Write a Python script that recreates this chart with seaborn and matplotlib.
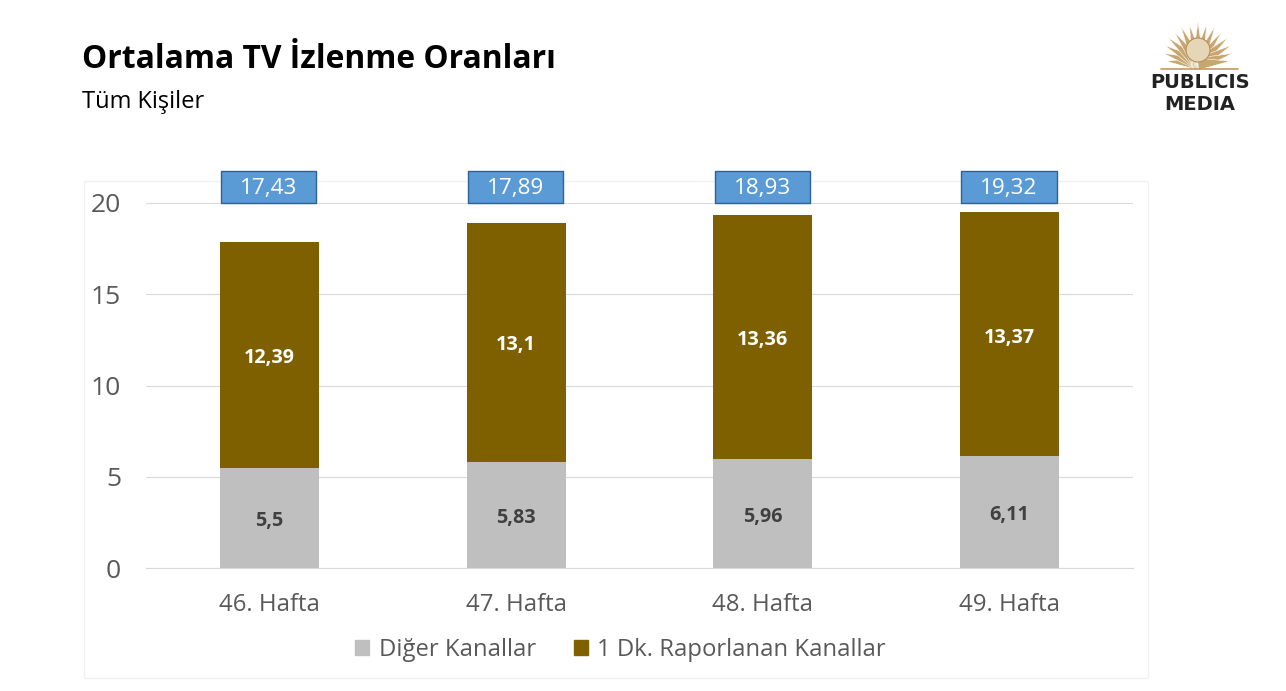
import numpy as np
import pandas as pd
import matplotlib
matplotlib.use("Agg")
import matplotlib.pyplot as plt
from matplotlib.patches import Rectangle, Polygon
import seaborn as sns

weeks = ["46. Hafta", "47. Hafta", "48. Hafta", "49. Hafta"]
other = [5.5, 5.83, 5.96, 6.11]
reported = [12.39, 13.1, 13.36, 13.37]
other_labels = ["5,5", "5,83", "5,96", "6,11"]
reported_labels = ["12,39", "13,1", "13,36", "13,37"]
total_labels = ["17,43", "17,89", "18,93", "19,32"]
y_ticks = [0, 5, 10, 15, 20]

W, H = 1286, 691
sns.set_theme(style="white")
plt.rcParams["font.family"] = ["Open Sans", "DejaVu Sans"]
fig = plt.figure(figsize=(W / 100, H / 100), dpi=100, facecolor="white")


def fx(px):
    return px / W


def fy(py):
    return 1 - py / H


ax = fig.add_axes([fx(146), fy(568), fx(1133) - fx(146), fy(203) - fy(568)])
ax.set_facecolor("none")

df = pd.DataFrame({"week": weeks, "other": other, "reported": reported})
sns.barplot(data=df, x="week", y="other", color="#BFBFBF", saturation=1, width=0.402, ax=ax,
            zorder=3, linewidth=0, edgecolor="none")
sns.barplot(data=df, x="week", y="reported", bottom=df["other"], color="#7F6000", saturation=1,
            width=0.402, ax=ax, zorder=3, linewidth=0, edgecolor="none")

ax.set_xlim(-0.5, 3.5)
ax.set_ylim(0, 20)
ax.set_yticks(y_ticks)
ax.set_xlabel("")
ax.set_ylabel("")
ax.grid(axis="y", color="#D9D9D9", lw=0.8)
ax.set_axisbelow(True)
for s in ["top", "right", "left"]:
    ax.spines[s].set_visible(False)
ax.spines["bottom"].set_color("#D9D9D9")
ax.spines["bottom"].set_linewidth(0.8)
ax.tick_params(axis="both", length=0)
ax.tick_params(axis="y", labelsize=19, labelcolor="#595959", pad=18)
ax.tick_params(axis="x", labelsize=17.3, labelcolor="#595959", pad=18)

for i in range(len(weeks)):
    ax.annotate(other_labels[i], (i, other[i] / 2), xytext=(0, -2.2), textcoords="offset points",
                ha="center", va="center", fontsize=14.2, fontweight="bold", color="#404040", zorder=5)
    ax.annotate(reported_labels[i], (i, other[i] + reported[i] / 2), xytext=(0, -2.2),
                textcoords="offset points", ha="center", va="center", fontsize=14.2,
                fontweight="bold", color="white", zorder=5)
    ax.add_patch(Rectangle((i - 0.196, 20), 0.386, 1.75, facecolor="#5B9BD5",
                           edgecolor="#2E6196", lw=1, clip_on=False, zorder=6))
    ax.text(i - 0.003, 20.82, total_labels[i], ha="center", va="center", fontsize=16.2,
            color="white", zorder=7, clip_on=False)

# chart frame
fig.add_artist(Rectangle((fx(84), fy(678)), fx(1148) - fx(84), fy(181) - fy(678),
                         transform=fig.transFigure, facecolor="none", edgecolor="#F0F0F0", lw=1, zorder=0))

# legend
handles = [Rectangle((0, 0), 1, 1, color="#BFBFBF"), Rectangle((0, 0), 1, 1, color="#7F6000")]
fig.legend(handles, ["Diğer Kanallar", "1 Dk. Raporlanan Kanallar"], ncol=2, frameon=False,
           loc="center", bbox_to_anchor=(fx(620.5), fy(650)), fontsize=17.2, labelcolor="#595959",
           handlelength=0.58, handleheight=0.58, handletextpad=0.4, columnspacing=1.6)

# headings
fig.text(fx(82), fy(60), "Ortalama TV İzlenme Oranları", fontsize=22.9, fontweight="bold",
         color="black", va="center", ha="left")
fig.text(fx(82), fy(102), "Tüm Kişiler", fontsize=17, color="black", va="center", ha="left")

# logo
logo = fig.add_axes([fx(1120), fy(120), 160 / W, 110 / H])
logo.set_xlim(1120, 1280)
logo.set_ylim(120, 10)
logo.axis("off")
cx, cy = 1198, 64
ray_angles = np.linspace(185, 355, 15)
ray_lengths = [32, 36, 38, 40, 39, 41, 40, 42, 40, 41, 39, 40, 38, 36, 32]
for a, ln in zip(ray_angles, ray_lengths):
    r = np.deg2rad(a)
    n = np.array([-np.sin(r), np.cos(r)])
    d = np.array([np.cos(r), np.sin(r)])
    c = np.array([cx, cy])
    logo.add_patch(Polygon([c + n * 6, c + d * ln, c - n * 6], facecolor="#C9A56F", edgecolor="white", lw=0.4))
logo.add_patch(plt.Circle((cx, 50), 12, facecolor="#E6D6B8", edgecolor="#B58F55", lw=0.8))
logo.plot([1161, 1238], [69, 69], color="#C29A5F", lw=1.2)
logo.text(1200, 83, "PUBLICIS", fontsize=14, ha="center", va="center", color="#222222",
          family="DejaVu Sans", fontweight="bold")
logo.text(1200, 104, "MEDIA", fontsize=14, ha="center", va="center", color="#222222",
          family="DejaVu Sans", fontweight="bold")

fig.savefig("out.png", dpi=100, facecolor="white")
